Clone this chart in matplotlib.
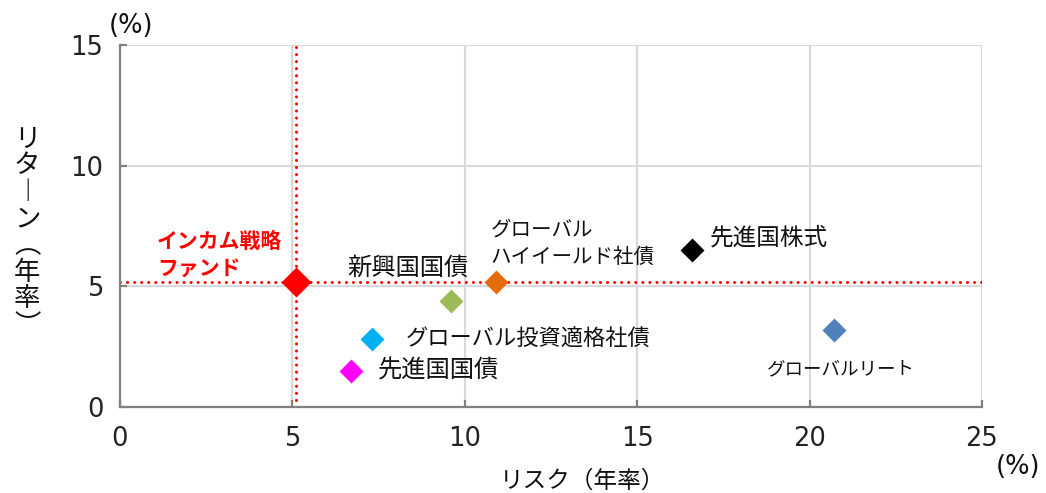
import matplotlib
matplotlib.use("Agg")
import matplotlib.pyplot as plt

plt.rcParams['font.family'] = ['Noto Sans CJK JP', 'DejaVu Sans']

# data: risk (x) / return (y), both annual %
names = ["インカム戦略\nファンド", "新興国国債", "グローバル\nハイイールド社債", "先進国株式",
         "グローバルリート", "グローバル投資適格社債", "先進国国債"]
risk = [5.1, 9.6, 10.9, 16.6, 20.7, 7.3, 6.7]
ret = [5.2, 4.4, 5.2, 6.5, 3.2, 2.8, 1.5]
colors = ["#FF0000", "#9BBB59", "#E46C0A", "#000000", "#4F81BD", "#00B0F0", "#FF00FF"]

# label anchors (left edge, vertical centre) in data coords
label_x = [1.08, 6.58, 10.75, 17.1, 18.75, 8.3, 7.48]
label_y = [6.3, 5.75, 6.8, 7.0, 1.55, 2.8, 1.5]
label_size = [15, 17.5, 14.8, 17, 13.3, 16, 17.5]

xticks = [0, 5, 10, 15, 20, 25]
yticks = [0, 5, 10, 15]
ylabel_chars = ["リ", "タ", "︱", "ン", "︵", "年", "率", "︶"]

fig = plt.figure(figsize=(10.46, 4.93), dpi=100)
ax = fig.add_axes([0.1147, 0.1744, 0.8241, 0.7343])

ax.set_xlim(0, 25)
ax.set_ylim(0, 15)
ax.set_xticks(xticks)
ax.set_yticks(yticks)
ax.grid(True, color="#D9D9D9", lw=1.5, zorder=0)
ax.set_axisbelow(True)
for s in ["top", "right"]:
    ax.spines[s].set_visible(False)
for s in ["left", "bottom"]:
    ax.spines[s].set_color("#808080")
    ax.spines[s].set_linewidth(1.6)
ax.tick_params(direction="in", length=5, width=1.6, color="#808080",
               labelsize=18.5, labelcolor="#222222")
ax.tick_params(axis="x", pad=14)
ax.tick_params(axis="y", pad=12)
for lab in ax.get_xticklabels() + ax.get_yticklabels():
    lab.set_family("DejaVu Sans")

# fund reference lines
ax.axhline(ret[0], color="#FF0000", lw=2.2, linestyle=(0, (0.01, 2.3)),
           dash_capstyle="round", zorder=2)
ax.axvline(risk[0], color="#FF0000", lw=2.2, linestyle=(0, (0.01, 2.3)),
           dash_capstyle="round", zorder=2)

for i in range(len(names)):
    ms = 15 if i == 0 else 12.5
    ax.plot(risk[i], ret[i], marker="D", ms=ms, color=colors[i], mec="none",
            linestyle="none", zorder=3, clip_on=False)
    if i == 0:
        ax.text(label_x[i], label_y[i], names[i], color="#FF0000", fontweight="bold",
                fontsize=label_size[i], va="center", ha="left", linespacing=1.35)
    else:
        ax.text(label_x[i], label_y[i], names[i], color="#111111",
                fontsize=label_size[i], va="center", ha="left", linespacing=1.3)

fig.text(0.026, 0.529, "\n".join(ylabel_chars), fontsize=19, ha="center",
         va="center", linespacing=0.98, color="#111111")
fig.text(0.557, 0.024, "リスク（年率）", fontsize=17, ha="center", va="center",
         color="#111111")
fig.text(0.104, 0.947, "(%)", fontsize=18.5, ha="left", va="center", color="#111111",
         family="DejaVu Sans")
fig.text(0.952, 0.053, "(%)", fontsize=18.5, ha="left", va="center", color="#111111",
         family="DejaVu Sans")

fig.savefig("out.png", dpi=100)
